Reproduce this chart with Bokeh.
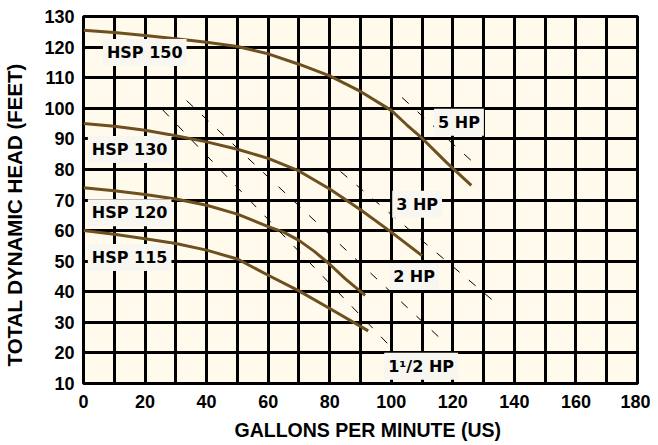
import math
from bokeh.plotting import figure
from bokeh.models import Label, FixedTicker, Title
from bokeh.embed import file_html
from bokeh.resources import INLINE

# ---- data ----
x_ticks = [0, 20, 40, 60, 80, 100, 120, 140, 160, 180]
y_ticks = [10, 20, 30, 40, 50, 60, 70, 80, 90, 100, 110, 120, 130]
x_grid = [0, 10, 20, 30, 40, 50, 60, 70, 80, 90, 100, 110, 120, 130, 140, 150, 160, 170, 180]

hsp150_x = [0, 10, 20, 30, 40, 50, 60, 70, 80, 90, 100, 105, 110, 118, 126]
hsp150_y = [125.5, 124.8, 123.8, 122.7, 121.6, 120.2, 117.8, 114.4, 110.6, 105.5, 99.3, 94.6, 90.2, 82.2, 74.8]

hsp130_x = [0, 10, 20, 30, 40, 50, 60, 70, 80, 90, 100, 110]
hsp130_y = [95, 94.1, 92.8, 91, 89, 86.6, 83.6, 79.5, 73.6, 66.8, 59.5, 51.8]

hsp120_x = [0, 10, 20, 30, 40, 50, 60, 65, 70, 75, 80, 85, 91.5]
hsp120_y = [74, 73, 71.8, 70.3, 68.3, 65.4, 61.3, 59.5, 56.8, 53.2, 49, 44.3, 38.8]

hsp115_x = [0, 10, 20, 30, 40, 50, 60, 70, 80, 92.5]
hsp115_y = [60, 58.8, 57.3, 55.8, 53.6, 50.7, 45.4, 40.3, 34.5, 27.2]

# horsepower boundary lines (start, end)
hp15_x = [25.7, 99.6]
hp15_y = [99.5, 22.2]
hp2_x = [33.5, 116.5]
hp2_y = [102.5, 24.2]
hp3_x = [83.5, 134.5]
hp3_y = [79.3, 35.9]
hp5_x = [103.5, 126.3]
hp5_y = [103.5, 82.6]

curve_labels = ["HSP 150", "HSP 130", "HSP 120", "HSP 115"]
curve_label_x = [19.9, 15, 15, 15]
curve_label_y = [118.2, 86.5, 65.8, 51.2]

hp_labels = ["5 HP", "3 HP", "2 HP", "1\u00b9/2 HP"]
hp_label_x = [122, 108.4, 107.4, 109.7]
hp_label_y = [95.4, 68.6, 45, 15.6]

# ---- figure ----
p = figure(width=650, height=443, x_range=(0, 180), y_range=(10, 130),
           output_backend="svg", toolbar_location=None, title=None,
           min_border_left=83, min_border_right=13, min_border_top=16,
           min_border_bottom=60,
           background_fill_color="#fffaeb", border_fill_color="white")

p.xaxis.ticker = FixedTicker(ticks=x_ticks)
p.yaxis.ticker = FixedTicker(ticks=y_ticks)
p.xgrid.ticker = FixedTicker(ticks=x_grid)
p.ygrid.ticker = FixedTicker(ticks=y_ticks)

for ax in (p.xaxis[0], p.yaxis[0]):
    ax.axis_line_color = None
    ax.major_tick_line_color = None
    ax.minor_tick_line_color = None
    ax.major_tick_out = 0
    ax.major_tick_in = 0
    ax.major_label_text_font = "Liberation Sans"
    ax.major_label_text_font_style = "bold"
    ax.major_label_text_color = "black"
    ax.major_label_text_font_size = "18px"
p.yaxis.major_label_standoff = 9
p.xaxis.major_label_standoff = 11

p.grid.grid_line_color = "black"
p.grid.grid_line_width = 3
p.grid.grid_line_alpha = 1
p.outline_line_color = "black"
p.outline_line_width = 3
p.outline_line_alpha = 1

# curves
brown = "#6e5020"
for xs, ys in [(hsp150_x, hsp150_y), (hsp130_x, hsp130_y),
               (hsp120_x, hsp120_y), (hsp115_x, hsp115_y)]:
    p.line(xs, ys, line_color=brown, line_width=3, line_join="round")

# dashed hp lines
for xs, ys in [(hp15_x, hp15_y), (hp2_x, hp2_y), (hp3_x, hp3_y), (hp5_x, hp5_y)]:
    p.line(xs, ys, line_color="black", line_width=1, line_dash="9 12")

# labels
for t, lx, ly in zip(curve_labels + hp_labels, curve_label_x + hp_label_x,
                     curve_label_y + hp_label_y):
    p.add_layout(Label(x=lx, y=ly, text=t, text_align="center",
                       text_baseline="middle", text_font="DejaVu Sans",
                       text_font_size="16px", text_font_style="bold",
                       text_color="black", background_fill_color="#f8f6f0",
                       padding=4))

# spacers between axes and axis titles
p.add_layout(Title(text=" ", text_font_size="1px", standoff=13), "left")
p.add_layout(Title(text=" ", text_font_size="1px", standoff=3), "below")

# axis titles
p.add_layout(Title(text="TOTAL DYNAMIC HEAD (FEET)", align="left", offset=17,
                   standoff=0,
                   text_font="Liberation Sans", text_font_size="20.5px",
                   text_font_style="bold", text_color="black"), "left")
p.add_layout(Title(text="GALLONS PER MINUTE (US)", align="left", offset=151,
                   standoff=0,
                   text_font="Liberation Sans", text_font_size="19.5px",
                   text_font_style="bold", text_color="black"), "below")

open("out.html", "w").write(file_html(p, INLINE))
